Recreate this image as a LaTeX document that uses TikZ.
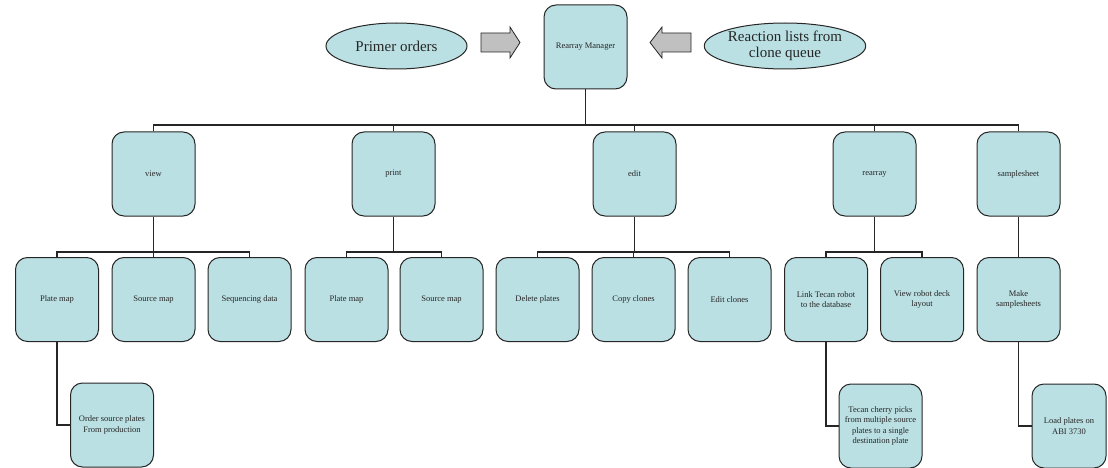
\documentclass[tikz,border=0pt]{standalone}
\usepackage{fontspec}
\setmainfont{Liberation Serif}
\usetikzlibrary{shapes.geometric}
\definecolor{boxfill}{HTML}{BBE0E3}
\definecolor{arrowfill}{HTML}{C0C0C0}
\begin{document}
\begin{tikzpicture}[x=1pt,y=-1pt,
  box/.style={draw=black!85, line width=1pt, fill=boxfill, rounded corners=12pt,
    minimum width=83pt, minimum height=84pt, inner sep=1pt, align=center,
    font=\rmfamily\fontsize{8.5}{10.5}\selectfont, text=black!85},
  oval/.style={ellipse, draw=black!85, line width=1pt, fill=boxfill,
    minimum width=141pt, minimum height=46pt, inner sep=0pt, align=center,
    font=\rmfamily\fontsize{15}{16}\selectfont, text=black!85},
  fatline/.style={line width=1.6pt, draw=black!85},
  thinline/.style={line width=1.1pt, draw=black!85},
  garrow/.style={draw=black!85, line width=0.8pt, fill=arrowfill}]
\useasboundingbox (0,0) rectangle (1108,468);

% top
\node[box] (rm) at (585.5,47) {Rearray Manager};
\node[oval] (po) at (396.5,46) {Primer orders};
\node[oval] (rl) at (785,46) {Reaction lists from\\clone queue};
\draw[garrow] (481,33) -- (510,33) -- (510,27) -- (520,42.5) -- (510,58) -- (510,52) -- (481,52) -- cycle;
\draw[garrow] (691,33) -- (662,33) -- (662,27) -- (650,42.5) -- (662,58) -- (662,52) -- (691,52) -- cycle;

% level 2
\node[box] (view) at (153.5,174) {view};
\node[box] (print) at (393.5,174) {print};
\node[box] (edit) at (634.5,174) {edit};
\node[box] (rearray) at (874.5,174) {rearray};
\node[box] (ss) at (1018.5,174) {samplesheet};

% level 3
\node[box] (vpm) at (57,299.5) {Plate map};
\node[box] (vsm) at (153.5,299.5) {Source map};
\node[box] (vsd) at (249.5,299.5) {Sequencing data};
\node[box] (ppm) at (346.5,299.5) {Plate map};
\node[box] (psm) at (441.5,299.5) {Source map};
\node[box] (edp) at (537.5,299.5) {Delete plates};
\node[box] (ecc) at (633.5,299.5) {Copy clones};
\node[box] (eec) at (729.5,299.5) {Edit clones};
\node[box] (rlt) at (826,299.5) {Link Tecan robot\\to the database};
\node[box] (rvr) at (922,299.5) {View robot deck\\layout};
\node[box] (sms) at (1018.5,299.5) {Make\\samplesheets};

% level 4
\node[box] (osp) at (112,425) {Order source plates\\From production};
\node[box] (tcp) at (880.5,426) {Tecan cherry picks\\from multiple source\\plates to a single\\destination plate};
\node[box, minimum width=74pt] (lpa) at (1069,426) {Load plates on\\ABI 3730};

% connectors level 1 -> 2
\coordinate (b1) at (585.5,125);
\draw[fatline] (rm.south) -- (b1);
\draw[thinline] (view.north) |- (b1) -| (ss.north);
\draw[thinline] (print.north) -- (print.north |- b1);
\draw[thinline] (edit.north) -- (edit.north |- b1);
\draw[thinline] (rearray.north) -- (rearray.north |- b1);

% connectors level 2 -> 3
\coordinate (bv) at (153.5,252);
\draw[fatline] (view.south) -- (bv);
\draw[thinline] (vpm.north) |- (bv) -| (vsd.north);
\draw[thinline] (vsm.north) -- (vsm.north |- bv);

\coordinate (bp) at (393.5,252);
\draw[fatline] (print.south) -- (bp);
\draw[thinline] (ppm.north) |- (bp) -| (psm.north);

\coordinate (be) at (634.5,252);
\draw[fatline] (edit.south) -- (be);
\draw[thinline] (edp.north) |- (be) -| (eec.north);
\draw[thinline] (ecc.north) -- (ecc.north |- be);

\coordinate (br) at (874.5,252);
\draw[fatline] (rearray.south) -- (br);
\draw[thinline] (rlt.north) |- (br) -| (rvr.north);

\draw[fatline] (ss.south) -- (sms.north);

% connectors level 3 -> 4
\draw[fatline] (vpm.south) |- (osp.west);
\draw[fatline] (rlt.south) |- (tcp.west);
\draw[fatline] (sms.south) |- (lpa.west);
\end{tikzpicture}
\end{document}
